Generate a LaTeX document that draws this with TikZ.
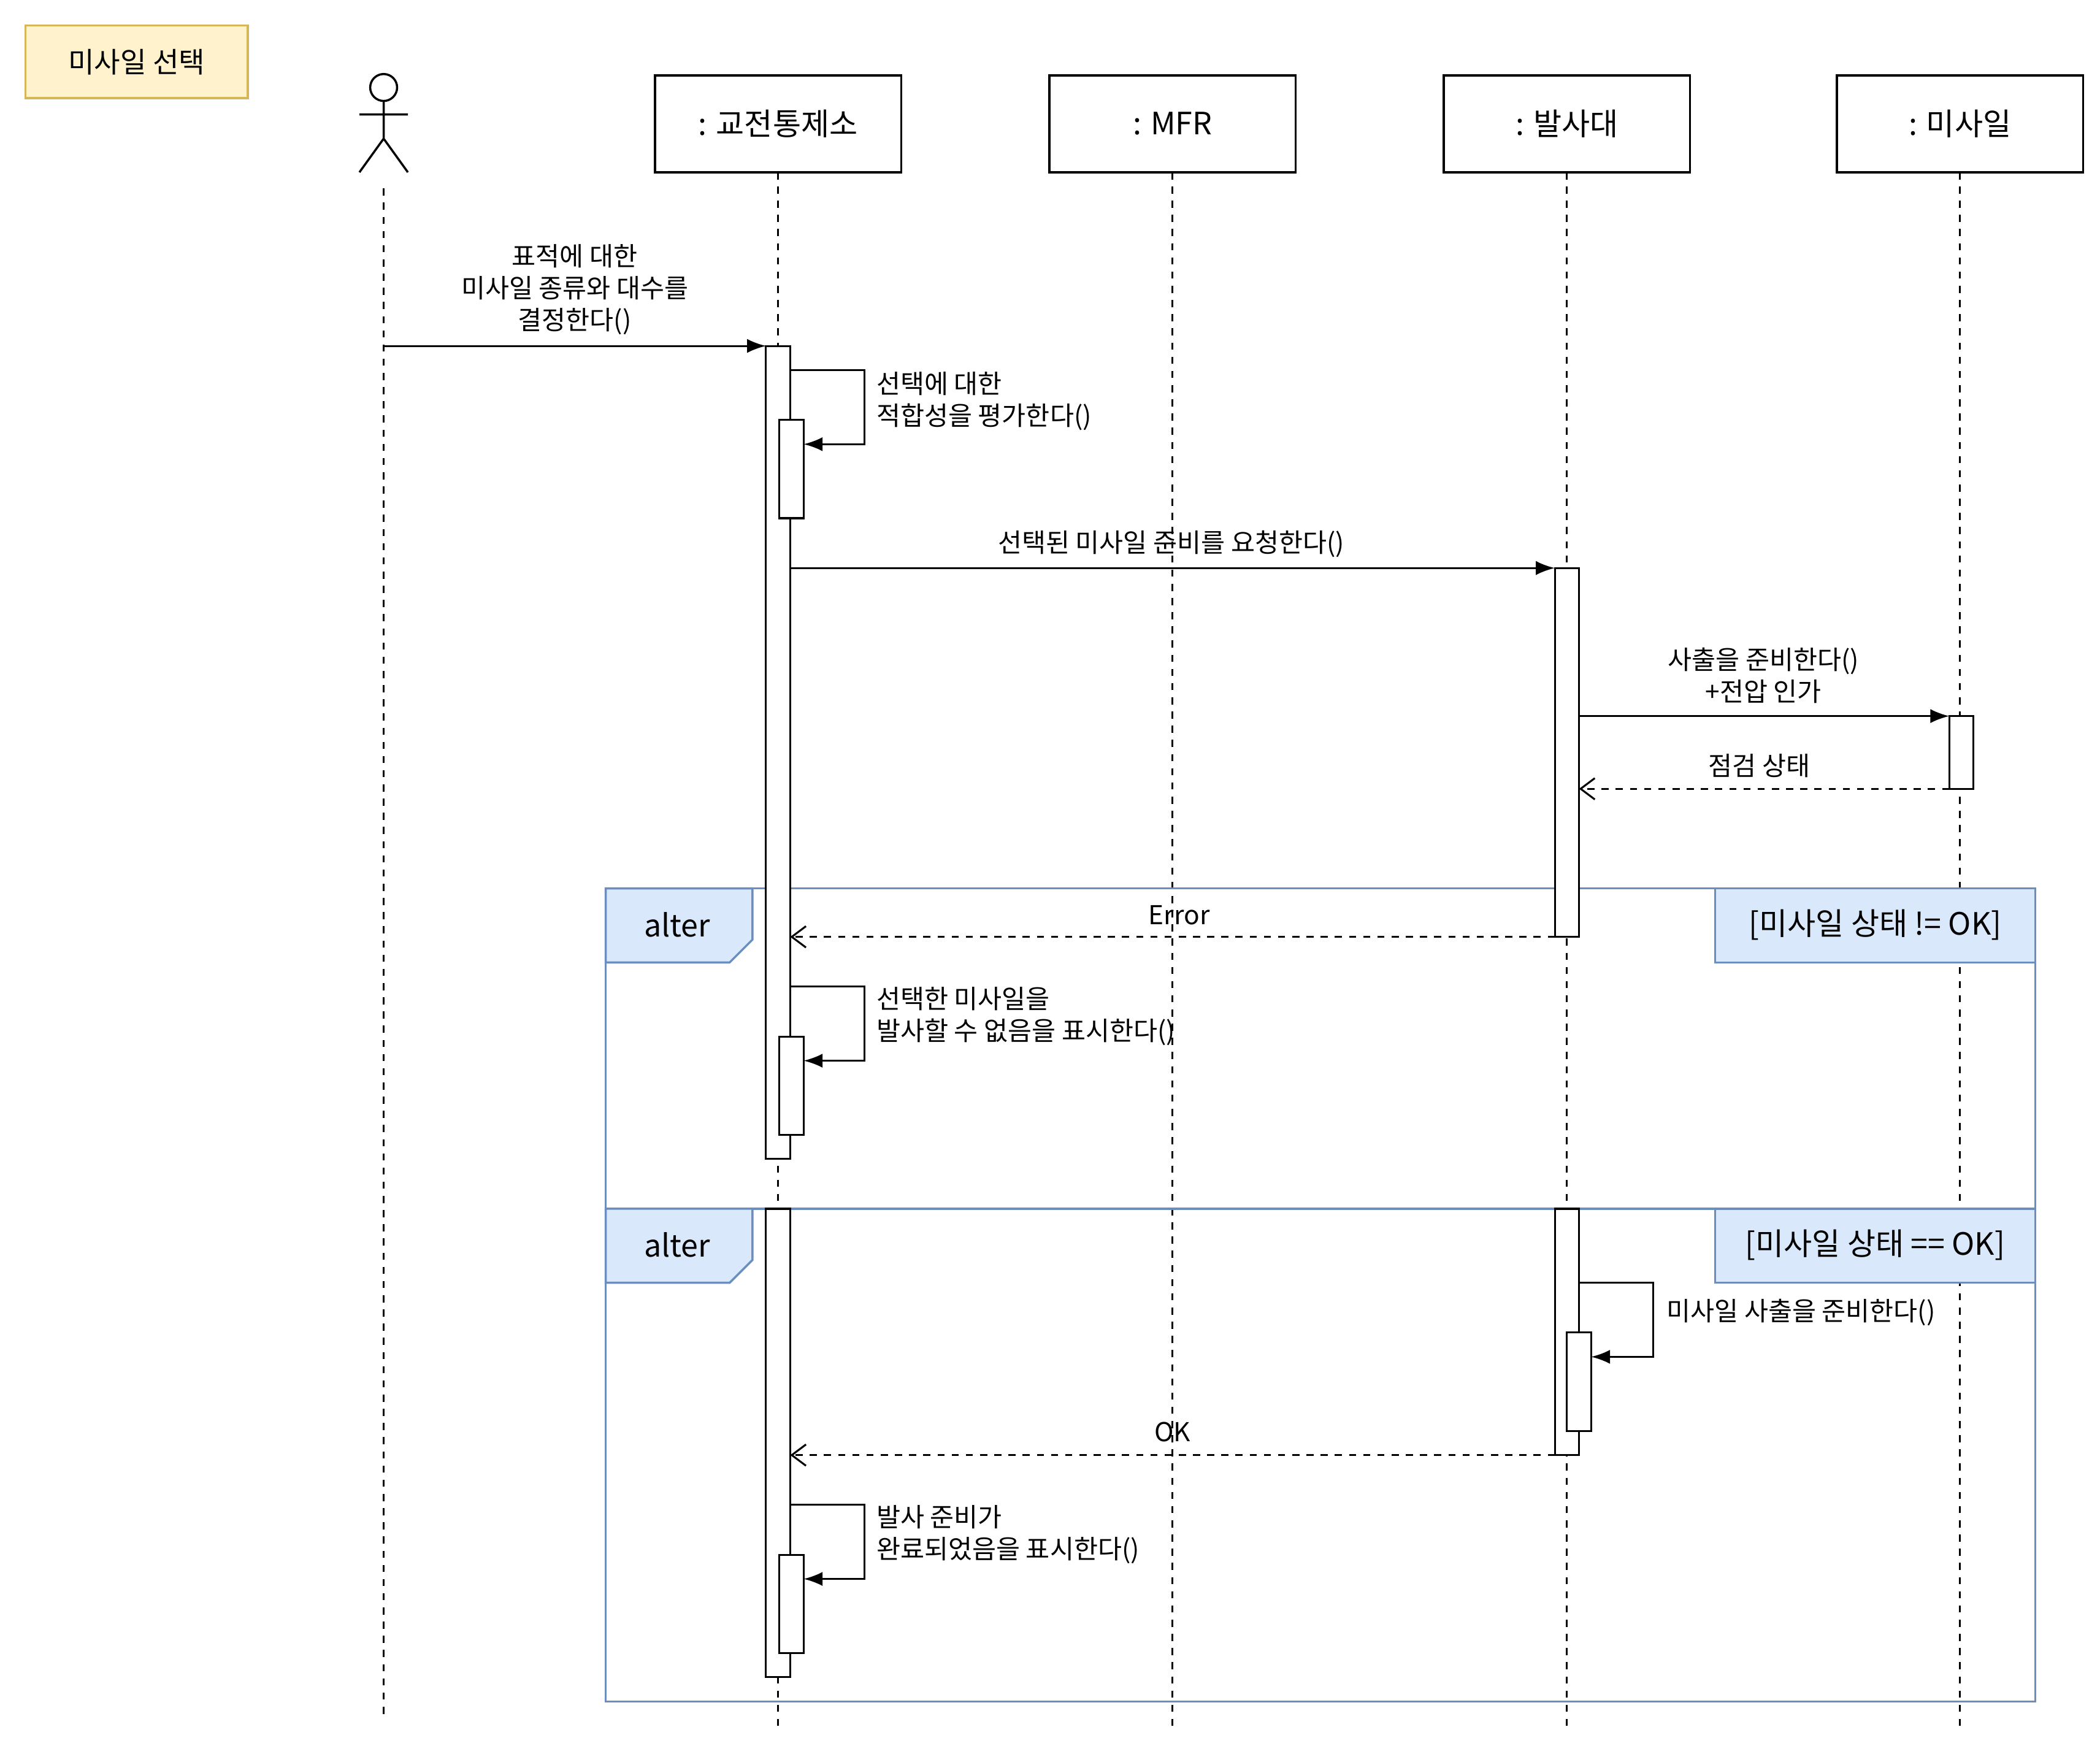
\documentclass[tikz,border=0pt]{standalone}
\usepackage{fontspec}
\setmainfont{Noto Sans CJK KR}
\usetikzlibrary{arrows.meta}
\definecolor{nfill}{HTML}{FFF2CC}\definecolor{nline}{HTML}{D6B656}
\definecolor{ffill}{HTML}{DAE8FC}\definecolor{fline}{HTML}{6C8EBF}
\begin{document}
\begin{tikzpicture}[x=0.02cm,y=-0.02cm,
  life/.style={draw,line width=0.9pt,minimum width=3.66cm,minimum height=1.44cm,fill=white,font=\fontsize{13}{15}\selectfont},
  ll/.style={dashed,line width=0.8pt},
  act/.style={draw,line width=0.8pt,fill=white},
  msg/.style={line width=0.8pt,-{Latex[length=8pt,width=6pt]}},
  ret/.style={line width=0.8pt,dashed,-{Straight Barb[length=6pt,width=9pt]}},
  lbl/.style={font=\fontsize{11}{13.5}\selectfont,align=center},
  lbll/.style={font=\fontsize{11}{13.5}\selectfont,align=left,anchor=west},
  frm/.style={draw=fline,line width=0.9pt},
  tag/.style={draw=fline,fill=ffill,line width=0.9pt},
  gtxt/.style={font=\fontsize{13}{15}\selectfont}]
\useasboundingbox (0,0) rectangle (1560,1297);
\fill[white] (0,0) rectangle (1560,1297);
% title
\node[draw=nline,fill=nfill,line width=0.9pt,minimum width=3.3cm,minimum height=1.08cm,font=\fontsize{12}{14}\selectfont] (title) at (101.5,46) {미사일 선택};
% lifelines
\draw[ll] (285,140) -- (285,1278);
\foreach \x in {578,871,1164,1456} \draw[ll] (\x,128) -- (\x,1282);
\node[life] (L1) at (578,92) {: 교전통제소};
\node[life] (L2) at (871,92) {: MFR};
\node[life] (L3) at (1164,92) {: 발사대};
\node[life] (L4) at (1456,92) {: 미사일};
% actor
\draw[line width=0.9pt] (285,65) circle (10);
\draw[line width=0.9pt] (285,75) -- (285,103) (267,85) -- (303,85) (267,128) -- (285,103) -- (303,128);
% frames
\draw[frm] (450,660) rectangle (1512,898);
\draw[tag] (450,660) -- (559,660) -- (559,698) -- (542,715) -- (450,715) -- cycle;
\node[gtxt] (t1) at (503,687) {alter};
\draw[tag] (1274,660) rectangle (1512,715);
\node[gtxt] (g1) at (1393,687) {[미사일 상태 != OK]};
\draw[frm] (450,898) rectangle (1512,1264);
\draw[tag] (450,898) -- (559,898) -- (559,936) -- (542,953) -- (450,953) -- cycle;
\node[gtxt] (t2) at (503,925) {alter};
\draw[tag] (1274,898) rectangle (1512,953);
\node[gtxt] (g2) at (1393,925) {[미사일 상태 == OK]};
% activations
\draw[act] (569,257) rectangle (587,861);
\draw[act] (579,312) rectangle (597,385);
\draw[act] (1155,422) rectangle (1173,696);
\draw[act] (1448,532) rectangle (1466,586);
\draw[act] (579,770) rectangle (597,843);
\draw[act] (569,898) rectangle (587,1246);
\draw[act] (1155,898) rectangle (1173,1081);
\draw[act] (1164,990) rectangle (1182,1063);
\draw[act] (579,1155) rectangle (597,1228);
% messages
\draw[msg] (285,257) -- (569,257);
\node[lbl] (m1) at (427,215) {표적에 대한\\미사일 종류와 대수를\\결정한다()};
\draw[msg] (587,275) -- (642,275) -- (642,330) -- (597,330);
\node[lbll] (m2) at (645,298) {선택에 대한\\적합성을 평가한다()};
\draw[msg] (587,422) -- (1155,422);
\node[lbl] (m3) at (870,404) {선택된 미사일 준비를 요청한다()};
\draw[msg] (1173,532) -- (1448,532);
\node[lbl] (m4) at (1310,502) {사출을 준비한다()\\+전압 인가};
\draw[ret] (1448,586) -- (1173,586);
\node[lbl] (m5) at (1307,569) {점검 상태};
\draw[ret] (1155,696) -- (587,696);
\node[lbl] (m6) at (876,680) {Error};
\draw[msg] (587,733) -- (642,733) -- (642,788) -- (597,788);
\node[lbll] (m7) at (645,755) {선택한 미사일을\\발사할 수 없음을 표시한다()};
\draw[msg] (1173,953) -- (1228,953) -- (1228,1008) -- (1182,1008);
\node[lbll] (m8) at (1232,975) {미사일 사출을 준비한다()};
\draw[ret] (1155,1081) -- (587,1081);
\node[lbl] (m9) at (871,1064) {OK};
\draw[msg] (587,1118) -- (642,1118) -- (642,1173) -- (597,1173);
\node[lbll] (m10) at (645,1140) {발사 준비가\\완료되었음을 표시한다()};
\end{tikzpicture}
\end{document}
